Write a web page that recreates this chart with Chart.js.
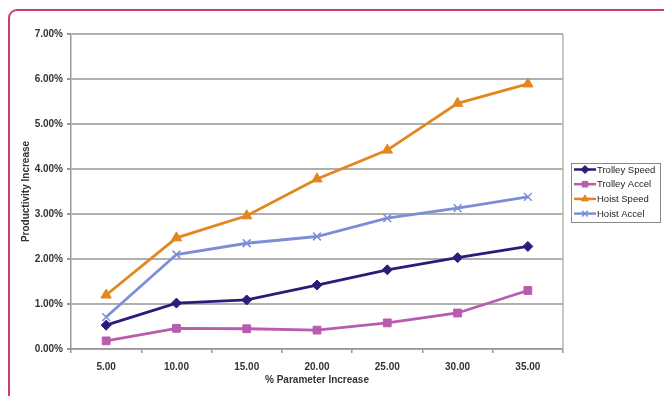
<!DOCTYPE html>
<html>
<head>
<meta charset="utf-8">
<script src="https://cdn.jsdelivr.net/npm/chart.js@4.4.1/dist/chart.umd.min.js"></script>
<style>
  html, body { margin: 0; padding: 0; background: #ffffff; overflow: hidden; }
  #wrap { position: relative; width: 664px; height: 396px; overflow: hidden; }
  #frame {
    position: absolute; left: 8px; top: 9px; width: 1000px; height: 800px;
    border-left: 2px solid #c8406e; border-top: 2px solid #c8406e;
    border-top-left-radius: 9px; box-sizing: border-box;
  }
  canvas { position: absolute; left: 0; top: 0; }
</style>
</head>
<body>
<div id="wrap">
  <div id="frame"></div>
  <canvas id="chart" width="664" height="396"></canvas>
</div>
<script>
// Parameter increase steps (x categories)
const categories = ['5.00', '10.00', '15.00', '20.00', '25.00', '30.00', '35.00'];

// Productivity increase, in percent
const trolleySpeed = [0.53, 1.02, 1.09, 1.42, 1.76, 2.03, 2.28];
const trolleyAccel = [0.18, 0.46, 0.45, 0.42, 0.58, 0.80, 1.30];
const hoistSpeed   = [1.20, 2.47, 2.96, 3.78, 4.42, 5.46, 5.89];
const hoistAccel   = [0.71, 2.10, 2.35, 2.50, 2.91, 3.13, 3.38];

const seriesNames = ['Trolley Speed', 'Trolley Accel', 'Hoist Speed', 'Hoist Accel'];

const FONT = '"Liberation Sans", Arial, sans-serif';

function series(label, data, color, style, radius) {
  return {
    label, data,
    borderColor: color, backgroundColor: color,
    pointBorderColor: color, pointBackgroundColor: color,
    borderWidth: 2.8, tension: 0,
    pointStyle: style, pointRadius: radius, pointHoverRadius: radius,
    pointBorderWidth: style === 'crossRot' ? 1.5 : 1
  };
}

// Boxed legend at the right, Excel style: line sample with marker
const boxLegend = {
  id: 'boxLegend',
  afterDraw(chart) {
    const ctx = chart.ctx;
    const x0 = 571, y0 = 163, w = 89, h = 59;
    ctx.save();
    ctx.strokeStyle = '#8a8a8a';
    ctx.lineWidth = 1;
    ctx.strokeRect(x0 + 0.5, y0 + 0.5, w, h);
    chart.data.datasets.forEach((ds, i) => {
      const y = 169.5 + i * 14.7;
      ctx.strokeStyle = ds.borderColor;
      ctx.lineWidth = 2.5;
      ctx.beginPath();
      ctx.moveTo(574, y);
      ctx.lineTo(596, y);
      ctx.stroke();
      ctx.fillStyle = ds.backgroundColor;
      ctx.lineWidth = ds.pointBorderWidth;
      Chart.helpers.drawPoint(ctx, {
        pointStyle: ds.pointStyle, radius: Math.min(ds.pointRadius, 4),
        rotation: 0, borderWidth: ds.pointBorderWidth
      }, 585, y);
      ctx.fillStyle = '#222';
      ctx.font = '9.5px ' + FONT;
      ctx.textBaseline = 'middle';
      ctx.textAlign = 'left';
      ctx.fillText(ds.label, 597, y + 0.5);
    });
    ctx.restore();
  }
};

// Plot area border on the right side
const plotBorder = {
  id: 'plotBorder',
  beforeDatasetsDraw(chart) {
    const { ctx, chartArea } = chart;
    ctx.save();
    ctx.strokeStyle = '#b4b4b4';
    ctx.lineWidth = 1.5;
    ctx.beginPath();
    ctx.moveTo(chartArea.right, chartArea.top);
    ctx.lineTo(chartArea.right, chartArea.bottom);
    ctx.stroke();
    ctx.restore();
  }
};

new Chart(document.getElementById('chart'), {
  type: 'line',
  data: {
    labels: categories,
    datasets: [
      series(seriesNames[0], trolleySpeed, '#2c1c7a', 'rectRot', 5),
      series(seriesNames[1], trolleyAccel, '#b95bae', 'rect', 5.5),
      series(seriesNames[2], hoistSpeed, '#e2871e', 'triangle', 6),
      series(seriesNames[3], hoistAccel, '#7c8ed8', 'crossRot', 5.5)
    ]
  },
  options: {
    responsive: false,
    animation: false,
    events: [],
    layout: { padding: { left: 0, top: 34, right: 101, bottom: 0 } },
    plugins: { legend: { display: false }, tooltip: { enabled: false } },
    scales: {
      x: {
        type: 'category',
        offset: true,
        grid: { offset: true, drawOnChartArea: false, drawTicks: true, tickLength: 4, tickColor: '#999', lineWidth: 1.5 },
        border: { color: '#999', width: 1.5 },
        ticks: { color: '#333', padding: 8, font: { family: FONT, size: 10, weight: 'bold' } },
        title: { display: true, text: '% Parameter Increase', color: '#333',
                 font: { family: FONT, size: 10, weight: 'bold' }, padding: { top: 0, bottom: 10 } },
        afterFit(s) { s.height = 47; }
      },
      y: {
        min: 0, max: 7,
        ticks: { stepSize: 1, color: '#333', padding: 4,
                 font: { family: FONT, size: 10, weight: 'bold' },
                 callback: v => v.toFixed(2) + '%' },
        grid: { color: '#b0b0b0', lineWidth: 2, tickLength: 4, tickColor: '#999' },
        border: { color: '#999', width: 1.5 },
        title: { display: true, text: 'Productivity Increase', color: '#333',
                 font: { family: FONT, size: 10, weight: 'bold' }, padding: { top: 20, bottom: 0 } },
        afterFit(s) { s.width = 71; }
      }
    }
  },
  plugins: [plotBorder, boxLegend]
});
</script>
</body>
</html>
